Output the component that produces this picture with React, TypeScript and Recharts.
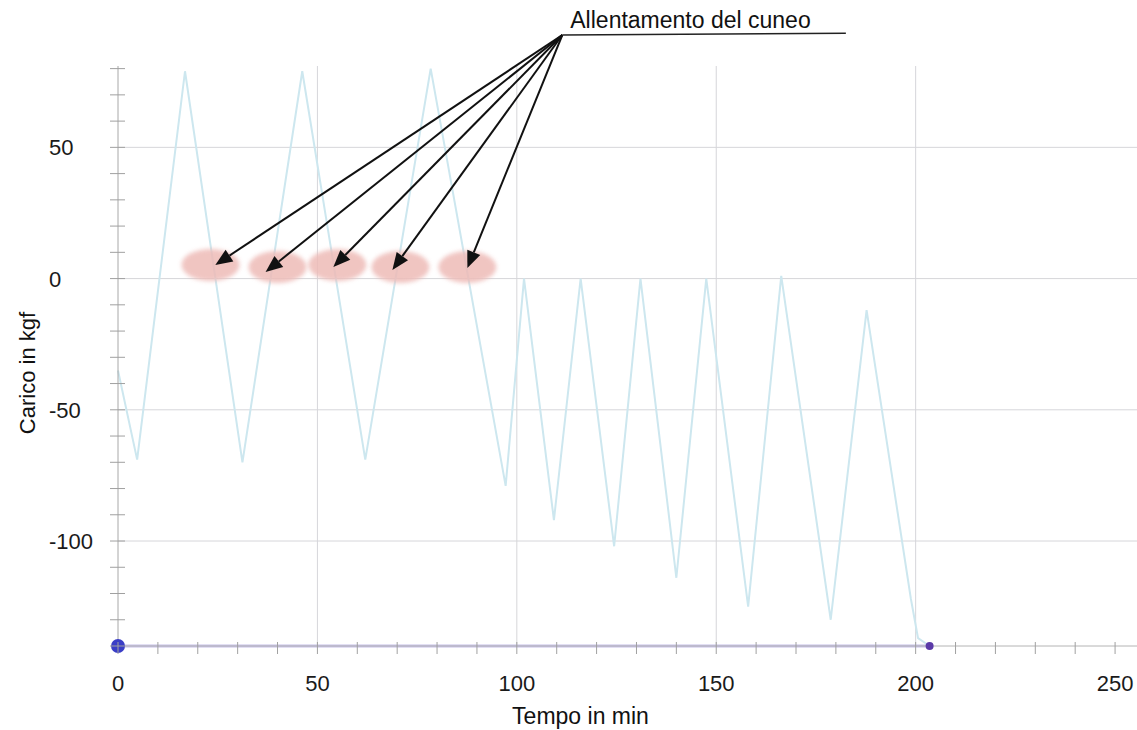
import {
  CartesianGrid,
  Line,
  LineChart,
  ReferenceLine,
  XAxis,
  YAxis,
} from "recharts";

// load curve (time in min, load in kgf)
const LOAD_TIME = [0, 4.8, 16.8, 31.2, 46.2, 62, 78.4, 97.2, 101.8, 109.3, 116, 124.4, 131, 140, 147.5, 158, 166.3, 178.7, 187.7, 198.8, 200.6, 203.5];
const LOAD_KGF = [-35, -69, 79, -70, 79, -69, 80, -79, 0, -92, 0, -102, 0, -114, 0, -125, 1, -130, -12, -122, -137, -140];

// flat trace along the bottom of the plot
const BASE_TIME = [0, 203.5];
const BASE_KGF = [-140, -140];

const X_TICKS = [0, 10, 20, 30, 40, 50, 60, 70, 80, 90, 100, 110, 120, 130, 140, 150, 160, 170, 180, 190, 200, 210, 220, 230, 240, 250];
const X_LABELS = [0, 50, 100, 150, 200, 250];
const Y_TICKS = [-140, -130, -120, -110, -100, -90, -80, -70, -60, -50, -40, -30, -20, -10, 0, 10, 20, 30, 40, 50, 60, 70, 80];
const Y_LABELS = [-100, -50, 0, 50];
const GRID_X = [50, 100, 150, 200];
const GRID_Y = [-100, -50, 0, 50];

// "Allentamento del cuneo" callout
const CALLOUT_TEXT = "Allentamento del cuneo";
const CALLOUT_FROM = { t: 111.4, v: 92.8 };
const CALLOUT_END = { t: 182.5, v: 93.5 };
const ARROW_TIP_T = [24.4, 37.0, 54.0, 68.8, 87.6];
const ARROW_TIP_V = [5.2, 2.5, 4.4, 3.3, 4.0];
const SPOT_T = [23.2, 40.0, 55.0, 70.8, 87.6];
const SPOT_V = [5.2, 4.4, 5.2, 4.4, 4.4];

const loadData = LOAD_TIME.map((t, i) => ({ t, v: LOAD_KGF[i] }));
const baseData = BASE_TIME.map((t, i) => ({ t, v: BASE_KGF[i] }));

const FONT = "'Liberation Sans', Arial, sans-serif";

function XTick({ x, y, payload }: any) {
  return (
    <g>
      <line x1={x} x2={x} y1={y - 4} y2={y + 8} stroke="#a0a0a0" />
      {X_LABELS.includes(payload.value) && (
        <text x={x} y={y + 45} textAnchor="middle" fontSize={22} fontFamily={FONT} fill="#1a1a1a">
          {payload.value}
        </text>
      )}
    </g>
  );
}

function YTick({ x, y, payload }: any) {
  return (
    <g>
      <line x1={x - 8} x2={x + 7} y1={y} y2={y} stroke="#a0a0a0" />
      {Y_LABELS.includes(payload.value) && (
        <text x={x - 69} y={y + 8} textAnchor="start" fontSize={22} fontFamily={FONT} fill="#1a1a1a">
          {payload.value}
        </text>
      )}
    </g>
  );
}

function Arrow({ x1, y1, x2, y2 }: any) {
  const len = Math.hypot(x2 - x1, y2 - y1);
  const ux = (x2 - x1) / len;
  const uy = (y2 - y1) / len;
  const bx = x2 - ux * 17;
  const by = y2 - uy * 17;
  return (
    <g>
      <line x1={x1} y1={y1} x2={bx} y2={by} stroke="#111" strokeWidth={2} />
      <polygon
        points={`${x2},${y2} ${bx - uy * 7},${by + ux * 7} ${bx + uy * 7},${by - ux * 7}`}
        fill="#111"
      />
    </g>
  );
}

function Callout({ x1, y1, x2, y2 }: any) {
  return (
    <g>
      <line x1={x1} y1={y1} x2={x2} y2={y2} stroke="#222" strokeWidth={1.5} />
      <text x={x1 + 8} y={y1 - 7} fontSize={23} fontFamily={FONT} fill="#111">
        {CALLOUT_TEXT}
      </text>
    </g>
  );
}

// pink highlight drawn at the first point of a zero-length segment
function Spot({ x1, y1 }: any) {
  return (
    <g>
      <defs>
        <filter id="spotBlur" x="-30%" y="-50%" width="160%" height="200%">
          <feGaussianBlur stdDeviation="2" />
        </filter>
      </defs>
      <ellipse cx={x1} cy={y1} rx={29} ry={16} fill="#eebbb7" opacity={0.85} filter="url(#spotBlur)" />
    </g>
  );
}

function BaseDot({ cx, cy, index }: any) {
  if (index === 0) return <circle key="b0" cx={cx} cy={cy} r={7} fill="#3a3ec6" />;
  return <circle key="b1" cx={cx} cy={cy} r={4} fill="#5b3aa8" />;
}

export default function App() {
  return (
    <div style={{ position: "absolute", left: 0, top: 0, width: 1137, height: 730, background: "#fff" }}>
      <LineChart width={1137} height={730} data={loadData} margin={{ top: 66, right: 0, left: 0, bottom: 0 }}>
        <CartesianGrid
          horizontal
          vertical
          horizontalValues={GRID_Y}
          verticalValues={GRID_X}
          stroke="#d6d6da"
        />
        <XAxis
          dataKey="t"
          type="number"
          domain={[0, 255.5]}
          ticks={X_TICKS}
          interval={0}
          tickSize={0}
          tickMargin={0}
          tick={<XTick />}
          height={84}
          axisLine={{ stroke: "#b4b4b4" }}
          label={{
            value: "Tempo in min",
            position: "center",
            dx: -47,
            dy: 28,
            style: { fontSize: 23, fontFamily: FONT, fill: "#111" },
          }}
        />
        <YAxis
          type="number"
          domain={[-140, 81]}
          ticks={Y_TICKS}
          interval={0}
          tickSize={0}
          tickMargin={0}
          tick={<YTick />}
          width={118}
          axisLine={{ stroke: "#a8a8a8" }}
          label={{
            value: "Carico in kgf",
            position: "center",
            angle: -90,
            dx: -32,
            dy: 17,
            style: { fontSize: 22, fontFamily: FONT, fill: "#111" },
          }}
        />
        <Line
          dataKey="v"
          type="linear"
          stroke="#cde7ef"
          strokeWidth={2}
          dot={false}
          isAnimationActive={false}
        />
        <Line
          data={baseData}
          dataKey="v"
          type="linear"
          stroke="#c6bfe8"
          strokeWidth={3}
          dot={<BaseDot />}
          isAnimationActive={false}
        />
        {SPOT_T.map((t, i) => (
          <ReferenceLine
            key={`s${i}`}
            ifOverflow="visible"
            segment={[
              { x: t, y: SPOT_V[i] },
              { x: t, y: SPOT_V[i] },
            ]}
            shape={<Spot />}
          />
        ))}
        {ARROW_TIP_T.map((t, i) => (
          <ReferenceLine
            key={`a${i}`}
            ifOverflow="visible"
            segment={[
              { x: CALLOUT_FROM.t, y: CALLOUT_FROM.v },
              { x: t, y: ARROW_TIP_V[i] },
            ]}
            shape={<Arrow />}
          />
        ))}
        <ReferenceLine
          ifOverflow="visible"
          segment={[
            { x: CALLOUT_FROM.t, y: CALLOUT_FROM.v },
            { x: CALLOUT_END.t, y: CALLOUT_END.v },
          ]}
          shape={<Callout />}
        />
      </LineChart>
    </div>
  );
}
